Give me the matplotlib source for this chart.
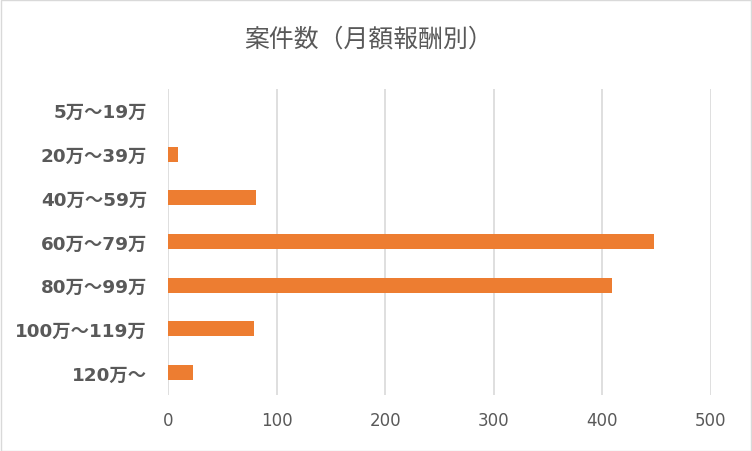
import matplotlib
matplotlib.use("Agg")
import matplotlib.pyplot as plt
from matplotlib.patches import Rectangle

plt.rcParams['font.family'] = ['DejaVu Sans', 'Noto Sans CJK JP']

categories = ["5万～19万", "20万～39万", "40万～59万", "60万～79万", "80万～99万", "100万～119万", "120万～"]
values = [0, 9, 81, 448, 409, 79, 23]
xticks = [0, 100, 200, 300, 400, 500]
title = "案件数（月額報酬別）"

text_color = "#595959"
bar_color = "#ED7D31"
grid_color = "#D9D9D9"

fig = plt.figure(figsize=(7.52, 4.52), dpi=100)
ax = fig.add_axes([168/752, 1-395.5/452, (710.7-168)/752, (395.5-89.5)/452])

y = list(range(len(categories)))
ax.barh(y, values, height=0.34, color=bar_color, zorder=3)
ax.set_ylim(len(categories)-0.5, -0.5)
ax.set_xlim(0, 500)
ax.set_xticks(xticks)
ax.set_xticklabels([str(t) for t in xticks], color=text_color, fontsize=12)
ax.set_yticks(y)
ax.set_yticklabels(categories, color=text_color, fontsize=13.2, fontweight='bold')
ax.tick_params(axis='both', length=0)
ax.tick_params(axis='x', pad=12)
ax.tick_params(axis='y', pad=15)
ax.grid(axis='x', color=grid_color, linewidth=1.2, zorder=0)
for s in ax.spines.values():
    s.set_visible(False)

fig.text(369/752, 1-40/452, title, ha='center', va='center', color=text_color,
         fontsize=17.9, family=['Noto Sans CJK JP', 'DejaVu Sans'])
fig.patches.append(Rectangle((0.001, 0.001), 0.998, 0.997, transform=fig.transFigure,
                             fill=False, edgecolor="#D9D9D9", linewidth=1))
fig.savefig("out.png", dpi=100)
